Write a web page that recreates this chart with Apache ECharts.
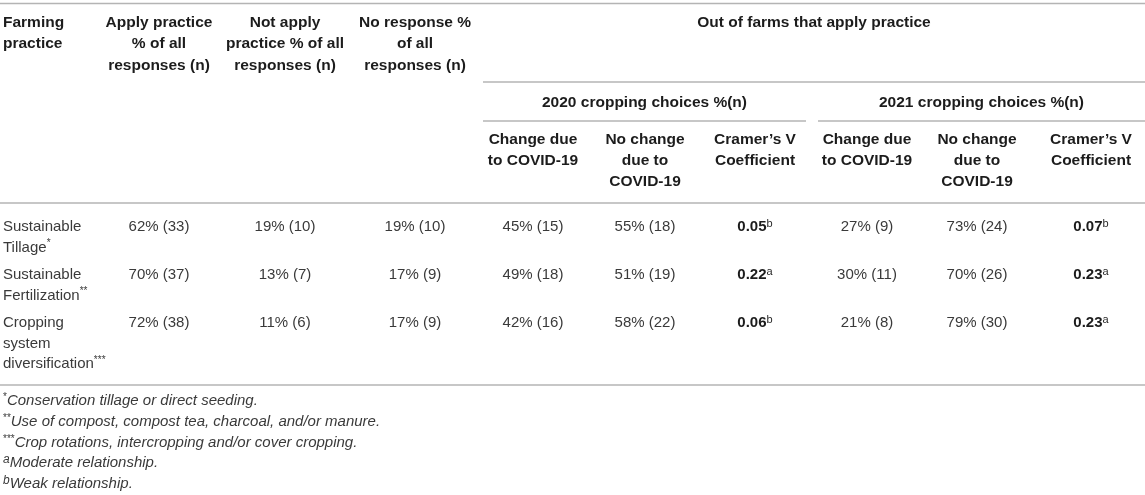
<!DOCTYPE html>
<html>
<head>
<meta charset="utf-8">
<title>Farming practices and COVID-19 cropping choices</title>
<script src="https://cdn.jsdelivr.net/npm/echarts@6/dist/echarts.min.js"></script>
<style>
  html, body { margin: 0; padding: 0; background: #ffffff; }
  #main { width: 1145px; height: 495px; }
</style>
</head>
<body>
<div id="main"></div>
<script>
// ---- table data ----
var practices = [
  ["Sustainable", "Tillage{sup|*}"],
  ["Sustainable", "Fertilization{sup|**}"],
  ["Cropping", "system", "diversification{sup|***}"]
];
var applyPct = [62, 70, 72];
var applyN = [33, 37, 38];
var notApplyPct = [19, 13, 11];
var notApplyN = [10, 7, 6];
var noRespPct = [19, 17, 17];
var noRespN = [10, 9, 9];
var change2020Pct = [45, 49, 42];
var change2020N = [15, 18, 16];
var noChange2020Pct = [55, 51, 58];
var noChange2020N = [18, 19, 22];
var cramer2020 = ["0.05", "0.22", "0.06"];
var sig2020 = ["b", "a", "b"];
var change2021Pct = [27, 30, 21];
var change2021N = [9, 11, 8];
var noChange2021Pct = [73, 70, 79];
var noChange2021N = [24, 26, 30];
var cramer2021 = ["0.07", "0.23", "0.23"];
var sig2021 = ["b", "a", "a"];

var leftHeaders = [
  ["Farming", "practice"],
  ["Apply practice", "% of all", "responses (n)"],
  ["Not apply", "practice % of all", "responses (n)"],
  ["No response %", "of all", "responses (n)"]
];
var groupHeader = "Out of farms that apply practice";
var yearHeaders = ["2020 cropping choices %(n)", "2021 cropping choices %(n)"];
var subHeaders = [
  ["Change due", "to COVID-19"],
  ["No change", "due to", "COVID-19"],
  ["Cramer\u2019s V", "Coefficient"]
];
var footnotes = [
  "{fsup|*}Conservation tillage or direct seeding.",
  "{fsup|**}Use of compost, compost tea, charcoal, and/or manure.",
  "{fsup|***}Crop rotations, intercropping and/or cover cropping.",
  "{fsupi|a}Moderate relationship.",
  "{fsupi|b}Weak relationship."
];

// ---- layout ----
var W = 1145, H = 495;
var firstX = 3;
var colX = [159, 285, 415, 533, 645, 755, 867, 977, 1091];
var headY = [23, 44, 66];
var groupY = 23, yearY = 103, subY = [140, 161, 182];
var rowY = [227, 275, 323];
var lineStep = 20.5;
var noteY = [401, 422, 443, 463, 484];
var rules = [
  [0, 3.5, W], [483, 82, W], [483, 121, 806], [818, 121, W],
  [0, 203, W], [0, 385, W]
];

var FONT = "'Liberation Sans', Arial, Helvetica, sans-serif";
var HEAD_COLOR = "#1c1c1c";
var BODY_COLOR = "#3a3a3a";

var cells = [];
function addCell(x, y, text, align, kind) {
  cells.push({ x: x, y: y, text: text, align: align, kind: kind });
}

// header cells
leftHeaders.forEach(function (lines, c) {
  lines.forEach(function (t, i) {
    if (c === 0) addCell(firstX, headY[i], t, "left", "head");
    else addCell(colX[c - 1], headY[i], t, "center", "head");
  });
});
addCell((483 + W) / 2, groupY, groupHeader, "center", "head");
addCell((483 + 806) / 2, yearY, yearHeaders[0], "center", "head");
addCell((818 + W) / 2, yearY, yearHeaders[1], "center", "head");
[3, 6].forEach(function (start) {
  subHeaders.forEach(function (lines, k) {
    lines.forEach(function (t, i) {
      addCell(colX[start + k], subY[i], t, "center", "head");
    });
  });
});

// body cells
function pn(p, n) { return p + "% (" + n + ")"; }
practices.forEach(function (lines, r) {
  lines.forEach(function (t, i) {
    addCell(firstX, rowY[r] + i * lineStep, t, "left", "body");
  });
  var vals = [
    pn(applyPct[r], applyN[r]),
    pn(notApplyPct[r], notApplyN[r]),
    pn(noRespPct[r], noRespN[r]),
    pn(change2020Pct[r], change2020N[r]),
    pn(noChange2020Pct[r], noChange2020N[r]),
    "{b|" + cramer2020[r] + "}{vsup|" + sig2020[r] + "}",
    pn(change2021Pct[r], change2021N[r]),
    pn(noChange2021Pct[r], noChange2021N[r]),
    "{b|" + cramer2021[r] + "}{vsup|" + sig2021[r] + "}"
  ];
  vals.forEach(function (t, c) {
    addCell(colX[c], rowY[r], t, "center", "body");
  });
});

// footnotes
footnotes.forEach(function (t, i) {
  addCell(firstX, noteY[i], t, "left", "note");
});

var RICH = {
  b: { fontFamily: FONT, fontSize: 15, fontWeight: "bold", fill: HEAD_COLOR, lineHeight: 18 },
  sup: { fontFamily: FONT, fontSize: 10, fill: BODY_COLOR, verticalAlign: "top", lineHeight: 18 },
  vsup: { fontFamily: FONT, fontSize: 11, fill: "#2a2a2a", verticalAlign: "top", lineHeight: 17 },
  fsup: { fontFamily: FONT, fontSize: 10, fill: BODY_COLOR, verticalAlign: "top", lineHeight: 18 },
  fsupi: { fontFamily: FONT, fontSize: 12, fontStyle: "italic", fill: BODY_COLOR, verticalAlign: "top", lineHeight: 18 }
};

var chart = echarts.init(document.getElementById("main"));
var option = {
  backgroundColor: "#ffffff",
  animation: false,
  grid: { left: 0, right: 0, top: 0, bottom: 0 },
  xAxis: { type: "value", min: 0, max: W, show: false },
  yAxis: { type: "value", min: 0, max: H, inverse: true, show: false },
  series: [
    {
      type: "custom",
      name: "rules",
      clip: false,
      silent: true,
      data: rules,
      renderItem: function (params, api) {
        var a = api.coord([api.value(0), api.value(1)]);
        var b = api.coord([api.value(2), api.value(1)]);
        return {
          type: "line",
          shape: { x1: a[0], y1: a[1], x2: b[0], y2: b[1] },
          style: { stroke: "#b4b4b4", lineWidth: 1.6 }
        };
      }
    },
    {
      type: "custom",
      name: "cells",
      clip: false,
      silent: true,
      data: cells.map(function (c) { return [c.x, c.y]; }),
      renderItem: function (params, api) {
        var c = cells[params.dataIndex];
        var p = api.coord([api.value(0), api.value(1)]);
        var isHead = c.kind === "head";
        return {
          type: "text",
          x: p[0],
          y: p[1],
          style: {
            text: c.text,
            fontFamily: FONT,
            fontSize: isHead ? 15.5 : 15,
            fontWeight: isHead ? "bold" : "normal",
            fontStyle: c.kind === "note" ? "italic" : "normal",
            fill: isHead ? HEAD_COLOR : BODY_COLOR,
            align: c.align,
            verticalAlign: "middle",
            rich: RICH
          }
        };
      }
    }
  ]
};
chart.setOption(option);
</script>
</body>
</html>
